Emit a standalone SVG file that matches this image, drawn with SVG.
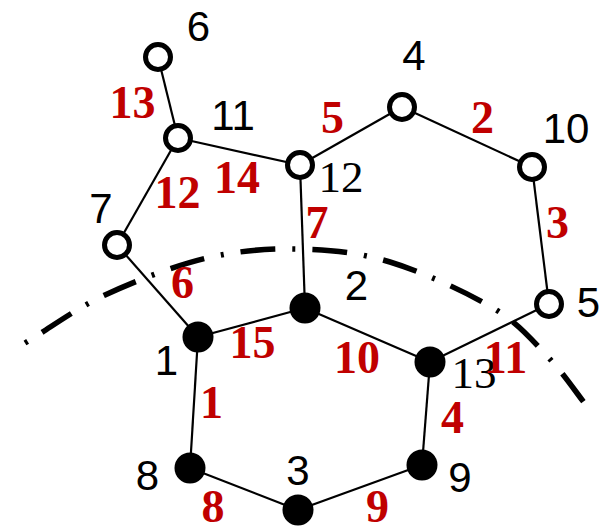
<svg xmlns="http://www.w3.org/2000/svg" width="599" height="528" viewBox="0 0 599 528">
<style>
.e{stroke:#000;stroke-width:2.2;fill:none}
.o{fill:#fff;stroke:#000;stroke-width:5}
.f{fill:#000}
.lb{font-family:"Liberation Sans",Arial,sans-serif;font-size:42px;fill:#000;text-anchor:middle}
.ls{font-family:"Liberation Serif","Times New Roman",serif;font-size:45px;fill:#000;text-anchor:middle}
.lr{font-family:"Liberation Serif","Times New Roman",serif;font-size:46px;font-weight:bold;fill:#C00000;text-anchor:middle}
.cut{fill:none;stroke:#000;stroke-width:5.5;stroke-dasharray:3 17 35 17}
</style>
<rect width="599" height="528" fill="#fff"/>
<g id="connectors">
<line class="e" x1="158" y1="57" x2="178" y2="138"/>
<line class="e" x1="178" y1="138" x2="117" y2="245"/>
<line class="e" x1="178" y1="138" x2="300" y2="165"/>
<line class="e" x1="300" y1="165" x2="402" y2="107"/>
<line class="e" x1="402" y1="107" x2="532" y2="167"/>
<line class="e" x1="532" y1="167" x2="549" y2="304"/>
<line class="e" x1="300" y1="165" x2="305" y2="308"/>
<line class="e" x1="117" y1="245" x2="198" y2="337"/>
<line class="e" x1="198" y1="337" x2="305" y2="308"/>
<line class="e" x1="305" y1="308" x2="430" y2="362"/>
<line class="e" x1="430" y1="362" x2="549" y2="304"/>
<line class="e" x1="198" y1="337" x2="190" y2="468"/>
<line class="e" x1="190" y1="468" x2="298" y2="510"/>
<line class="e" x1="298" y1="510" x2="422" y2="465"/>
<line class="e" x1="422" y1="465" x2="430" y2="362"/>
</g>
<path id="cut-line" class="cut" d="M25,343 C51.7,327 74.7,309.2 105,295 C135.3,280.8 174.5,265.7 207,258 C239.5,250.3 269.5,248.3 300,249 C330.5,249.7 357.8,252.2 390,262 C422.2,271.8 466.7,292.2 493,308 C519.3,323.8 531.5,339.5 548,357 C564.5,374.5 577.3,394.3 592,413"/>
<g id="node-6"><circle class="o" cx="158" cy="57" r="12.5"/><text class="lb" x="198.5" y="41">6</text></g>
<g id="node-11"><circle class="o" cx="178" cy="138" r="12.5"/><text class="lb" x="233" y="130">11</text></g>
<g id="node-7"><circle class="o" cx="117" cy="245" r="12.5"/><text class="lb" x="101" y="223">7</text></g>
<g id="node-12"><circle class="o" cx="300" cy="165" r="12.5"/><text class="ls" x="341" y="192">12</text></g>
<g id="node-4"><circle class="o" cx="402" cy="107" r="12.5"/><text class="lb" x="414" y="70">4</text></g>
<g id="node-10"><circle class="o" cx="532" cy="167" r="12.5"/><text class="lb" x="566" y="143">10</text></g>
<g id="node-5"><circle class="o" cx="549" cy="304" r="12.5"/><text class="lb" x="588.5" y="317">5</text></g>
<g id="node-2"><circle class="f" cx="305" cy="308" r="15.5"/><text class="lb" x="356.5" y="300">2</text></g>
<g id="node-1"><circle class="f" cx="198" cy="337" r="15.5"/><text class="lb" x="166.5" y="375">1</text></g>
<g id="node-13"><circle class="f" cx="430" cy="362" r="15.5"/><text class="ls" x="474" y="388">13</text></g>
<g id="node-8"><circle class="f" cx="190" cy="468" r="15.5"/><text class="lb" x="147.5" y="490">8</text></g>
<g id="node-9"><circle class="f" cx="422" cy="465" r="15.5"/><text class="lb" x="460" y="492">9</text></g>
<g id="node-3"><circle class="f" cx="298" cy="510" r="15.5"/><text class="lb" x="298" y="485">3</text></g>
<g id="edge-labels">
<text class="lr" x="132.5" y="118">13</text>
<text class="lr" x="177.5" y="208">12</text>
<text class="lr" x="237" y="193">14</text>
<text class="lr" x="332.5" y="133">5</text>
<text class="lr" x="482.5" y="133">2</text>
<text class="lr" x="317" y="238">7</text>
<text class="lr" x="557.5" y="238">3</text>
<text class="lr" x="182.5" y="298">6</text>
<text class="lr" x="252.5" y="358">15</text>
<text class="lr" x="211.5" y="418">1</text>
<text class="lr" x="213" y="522">8</text>
<text class="lr" x="357" y="373">10</text>
<text class="lr" x="505.5" y="373">11</text>
<text class="lr" x="452.5" y="433">4</text>
<text class="lr" x="377.5" y="522">9</text>
</g>
</svg>
